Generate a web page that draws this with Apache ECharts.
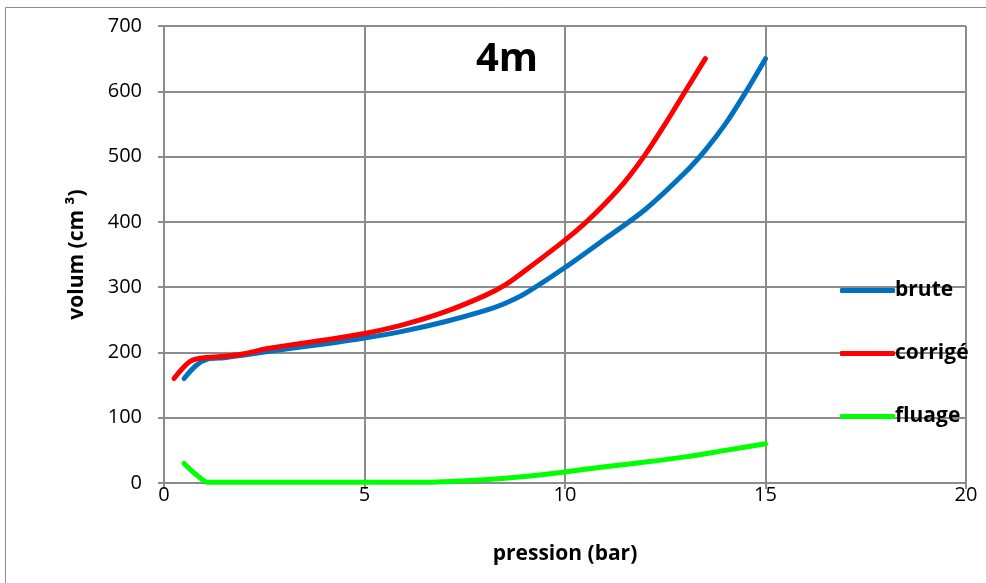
<!DOCTYPE html>
<html><head><meta charset="utf-8">
<script src="https://cdn.jsdelivr.net/npm/echarts@6/dist/echarts.min.js"></script>
<style>html,body{margin:0;padding:0;background:#fff}#c{width:986px;height:583px}</style>
</head><body><div id="c"></div>
<script>
const xTicks = [0, 5, 10, 15, 20];
const yTicks = [0, 100, 200, 300, 400, 500, 600, 700];
const bruteX = [0.5, 0.8, 1.1, 1.5, 2, 3, 4, 5, 6, 7, 8, 8.5, 9, 10, 11, 12, 13, 13.5, 14, 14.5, 15];
const bruteY = [160, 180, 190, 192, 196, 205, 213, 222, 233, 247, 264, 275, 290, 330, 374, 419, 476, 510, 550, 598, 650];
const corrX = [0.25, 0.5, 0.7, 1, 1.5, 2, 2.5, 3, 4, 5, 6, 7, 8, 8.5, 9, 10, 10.5, 11, 11.5, 12, 12.5, 13, 13.5];
const corrY = [160, 178, 188, 192, 194, 198, 205, 210, 219, 229, 243, 262, 287, 303, 325, 372, 398, 428, 462, 503, 550, 600, 650];
const fluX = [0.5, 0.8, 1.1, 1.5, 2, 3, 4, 5, 6, 6.5, 7, 8, 9, 10, 11, 12, 13, 14, 15];
const fluY = [30, 13, 1, 1, 1, 1, 1, 1, 1, 1, 2, 5, 10, 17, 25, 32, 40, 50, 60];

const zip = (a, b) => a.map((v, i) => [v, b[i]]);
const F = "'Open Sans', 'Liberation Sans', sans-serif";
const FS = 21;
const chart = echarts.init(document.getElementById('c'), null, {renderer: 'canvas'});
const lineSeries = (name, x, y, color) => ({
  name, type: 'line', data: zip(x, y), smooth: 0.3, showSymbol: false, symbol: 'none',
  lineStyle: {color, width: 5, cap: 'round', join: 'round'}, itemStyle: {color}
});
chart.setOption({
  animation: false,
  grid: {left: 164, right: 20, top: 26, bottom: 100, containLabel: false},
  title: {text: '4m', left: 502, top: 35, textAlign: 'center',
    textStyle: {fontFamily: F, fontSize: 40, fontWeight: 'bold', color: '#000'}},
  graphic: [{type: 'rect', shape: {x: 5.5, y: 7.5, width: 1000, height: 600},
    style: {fill: 'none', stroke: '#8c8c8c', lineWidth: 1}, silent: true}],
  legend: {orient: 'vertical', left: 835, top: 275, itemWidth: 55, itemHeight: 5, itemGap: 42,
    icon: 'roundRect',
    textStyle: {fontFamily: F, fontSize: FS, fontWeight: 'bold', color: '#000', padding: [0, 0, 0, -5]},
    data: ['brute', 'corrigé', 'fluage']},
  xAxis: {type: 'value', min: 0, max: 20, interval: 5,
    name: 'pression (bar)', nameLocation: 'middle', nameGap: 61,
    nameTextStyle: {fontFamily: F, fontSize: FS, fontWeight: 'bold', color: '#000'},
    axisLine: {lineStyle: {color: '#8c8c8c', width: 2}},
    axisTick: {show: true, length: 6, lineStyle: {color: '#8c8c8c', width: 2}},
    splitLine: {show: true, lineStyle: {color: '#8c8c8c', width: 2}},
    axisLabel: {fontFamily: F, fontSize: FS - 1, color: '#000', margin: 2,
      formatter: v => xTicks.includes(v) ? String(v) : ''}},
  yAxis: {type: 'value', min: 0, max: 700, interval: 100,
    name: 'volum (cm ³)', nameLocation: 'middle', nameGap: 76,
    nameTextStyle: {fontFamily: F, fontSize: FS, fontWeight: 'bold', color: '#000'},
    axisLine: {show: true, lineStyle: {color: '#8c8c8c', width: 2}},
    axisTick: {show: true, length: 6, lineStyle: {color: '#8c8c8c', width: 2}},
    splitLine: {show: true, lineStyle: {color: '#8c8c8c', width: 2}},
    axisLabel: {fontFamily: F, fontSize: FS - 1, color: '#000', margin: 22,
      formatter: v => yTicks.includes(v) ? String(v) : ''}},
  series: [
    lineSeries('brute', bruteX, bruteY, '#0070C0'),
    lineSeries('corrigé', corrX, corrY, '#FF0000'),
    lineSeries('fluage', fluX, fluY, '#00FF00')
  ]
});
</script></body></html>
